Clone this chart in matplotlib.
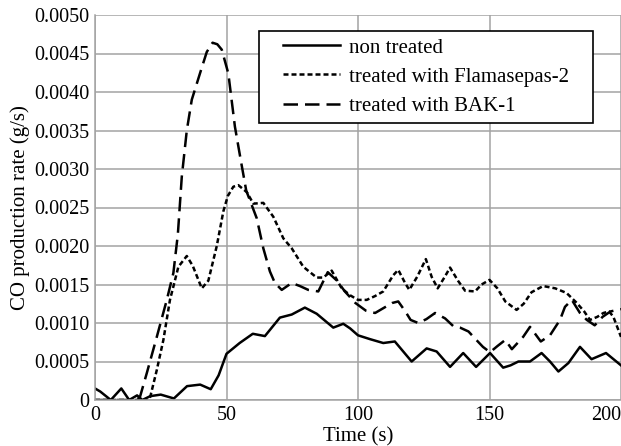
import numpy as np
from matplotlib import pyplot as plt
from matplotlib.patches import Rectangle

plt.rcParams['font.family'] = ['Liberation Serif', 'DejaVu Serif']

# non treated
t_non = [0, 2, 6, 10, 13, 16, 18, 21, 25, 30, 35, 40, 44, 47, 50, 55, 60,
         64.6, 70.3, 74.8, 79.8, 84.3, 90.6, 94.4, 97, 100, 104.6, 109.6,
         114, 117.2, 120.4, 126.1, 129.9, 135, 140, 144.9, 150.2, 155.2,
         158, 161, 165.4, 169.8, 173, 176.2, 180, 184.4, 188.8, 194.3, 200]
co_non = [0.00015, 0.00011, 0.0, 0.00015, 0.0, 0.00006, 0.0, 0.00005,
          0.00007, 0.00002, 0.00018, 0.0002, 0.00014, 0.00032, 0.0006,
          0.00074, 0.00086, 0.00083, 0.00107, 0.00111, 0.0012, 0.00112,
          0.00094, 0.00099, 0.00093, 0.00084, 0.00079, 0.00074, 0.00076,
          0.00063, 0.0005, 0.00067, 0.00063, 0.00043, 0.00061, 0.00043,
          0.00061, 0.00042, 0.00045, 0.0005, 0.0005, 0.00061, 0.0005,
          0.00037, 0.00048, 0.00069, 0.00053, 0.00061, 0.00045]

# treated with Flamasepas-2
t_fla = [0, 10, 20, 21, 23.5, 26, 28.5, 30, 31.7, 34.9, 37.2, 40.6, 43.1,
         46.3, 48.8, 50.5, 52.6, 54.5, 57.7, 60.2, 64, 67.8, 71.6, 74.8,
         79.2, 84.3, 86.8, 90, 93.8, 97, 100, 103.3, 106.5, 109.6, 113.4,
         115.3, 117.9, 119.5, 122.5, 125.8, 128, 130.3, 133, 135, 138,
         140.7, 144.5, 147, 150, 153, 156, 160.3, 163, 166, 170.4, 175,
         179.3, 183.2, 186, 188.2, 191, 193.3, 195.5, 197.1, 200]
co_fla = [0, 0, 0, 0.00004, 0.00039, 0.00078, 0.0013, 0.0015, 0.00173,
          0.00187, 0.00174, 0.00145, 0.00155, 0.002, 0.00245, 0.00265,
          0.00277, 0.00279, 0.0027, 0.00255, 0.00256, 0.00238, 0.0021,
          0.00197, 0.00173, 0.00159, 0.00159, 0.00168, 0.00145, 0.00136,
          0.0013, 0.0013, 0.00135, 0.00141, 0.00162, 0.00169, 0.00152,
          0.00143, 0.0016, 0.00183, 0.0016, 0.00145, 0.0016, 0.00172,
          0.00155, 0.00142, 0.00141, 0.0015, 0.00156, 0.00145, 0.00128,
          0.00117, 0.00125, 0.0014, 0.00148, 0.00145, 0.00139, 0.00126,
          0.00115, 0.00104, 0.00108, 0.00113, 0.00115, 0.00108, 0.00082]

# treated with BAK-1
t_bak = [0, 10, 15.8, 17.1, 19.7, 23.5, 27.3, 29.8, 31.5, 33, 34.9, 36.8,
         39.9, 42.5, 44.7, 46.5, 48.2, 50.7, 53.2, 55.5, 57.5, 61.5, 64,
         66.5, 68.4, 71, 74.8, 77.9, 81.1, 84.9, 88.5, 92, 95, 99, 103,
         106.5, 110, 113, 115.3, 118, 120, 122.9, 126, 129.3, 133.1, 136.2,
         138.8, 142, 145, 147.5, 150.2, 153, 156, 158.5, 162.8, 165.4,
         169.5, 173, 176.8, 178.7, 181.3, 184.4, 187, 190, 193, 196, 200]
co_bak = [0, 0, 0, 0.00004, 0.00035, 0.00082, 0.0013, 0.00165, 0.00215,
          0.0029, 0.0035, 0.0039, 0.00424, 0.00452, 0.00464, 0.00462,
          0.00455, 0.00424, 0.00355, 0.0031, 0.00272, 0.00236, 0.00197,
          0.00167, 0.00152, 0.00143, 0.00152, 0.00148, 0.00143, 0.00141,
          0.00166, 0.00155, 0.00141, 0.00126, 0.00116, 0.00113, 0.0012,
          0.00126, 0.00128, 0.00115, 0.00104, 0.001, 0.00105, 0.00113,
          0.00106, 0.00096, 0.00094, 0.00089, 0.00078, 0.00069, 0.00062,
          0.0007, 0.00078, 0.00066, 0.00082, 0.00095, 0.00076, 0.00084,
          0.00104, 0.00121, 0.0013, 0.00113, 0.00104, 0.00097, 0.00108,
          0.00115, 0.00118]

x_ticks = [0, 50, 100, 150, 200]
x_tick_labels = ['0', '50', '100', '150', '200']
y_ticks = [0, 0.0005, 0.0010, 0.0015, 0.0020, 0.0025, 0.0030, 0.0035,
           0.0040, 0.0045, 0.0050]
y_tick_labels = ['0', '0.0005', '0.0010', '0.0015', '0.0020', '0.0025',
                 '0.0030', '0.0035', '0.0040', '0.0045', '0.0050']

fig = plt.figure(figsize=(6.21, 4.46), dpi=100)
ax = fig.add_axes([95/621, 46/446, 526/621, 385/446])

grid_col = '#a3a3a3'
ax.plot(t_non, co_non, color='black', lw=1.8, label='non treated')
ax.plot(t_fla, co_fla, color='black', lw=1.8, dashes=(2.0, 1.2),
        label='treated with Flamasepas-2')
ax.plot(t_bak, co_bak, color='black', lw=1.8, dashes=(5.8, 2.8),
        label='treated with BAK-1')

ax.set_xlim(0, 200)
ax.set_ylim(0, 0.005)
ax.set_xticks(x_ticks)
ax.set_xticklabels(x_tick_labels)
ax.set_yticks(y_ticks)
ax.set_yticklabels(y_tick_labels)
ax.grid(True, color=grid_col, lw=1.1)
ax.set_axisbelow(True)
for s in ['top', 'right']:
    ax.spines[s].set_visible(False)
for s in ['left', 'bottom']:
    ax.spines[s].set_color(grid_col)
    ax.spines[s].set_linewidth(1.1)
ax.tick_params(length=0, colors='black', labelsize=14.5,
               labelfontfamily='Liberation Serif')
ax.tick_params(axis='y', pad=4)
ax.tick_params(axis='x', pad=4)
ax.get_xticklabels()[-1].set_horizontalalignment('right')

ax.set_xlabel('Time (s)', fontsize=15, labelpad=2)
ax.set_ylabel('CO production rate (g/s)', fontsize=15, labelpad=3)

# legend box drawn separately for wider side padding
box = Rectangle(((259-95)/526, (400-123)/385), (593-259)/526, (123-31)/385,
                transform=ax.transAxes, facecolor='white', edgecolor='black',
                lw=1.2, zorder=4)
ax.add_patch(box)
leg = ax.legend(loc='upper left', bbox_to_anchor=((283-95)/526, (400-38)/385),
                frameon=False, fontsize=15, borderpad=0, borderaxespad=0,
                handlelength=2.75, handletextpad=0.4, labelspacing=0.46)
leg.set_zorder(5)

plt.savefig('out.png', dpi=100)
